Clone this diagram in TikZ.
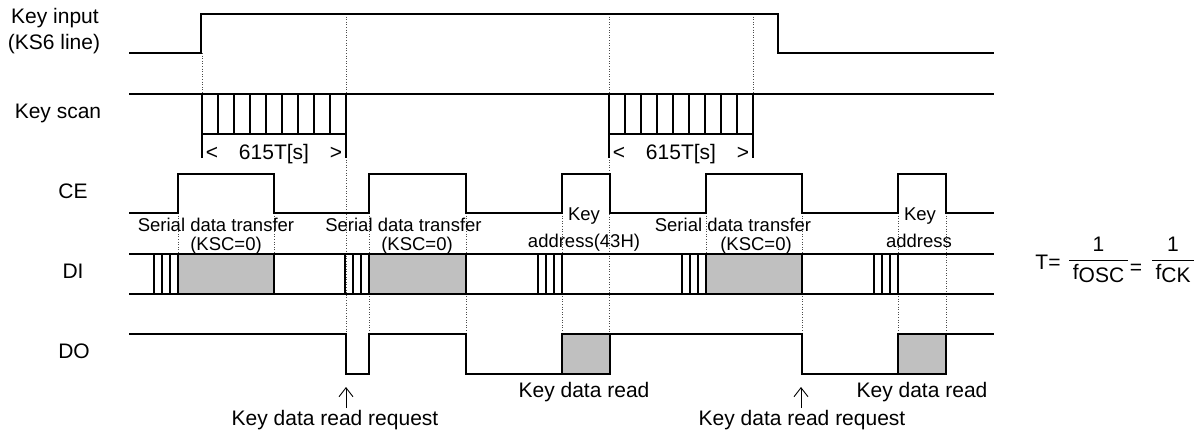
\documentclass[tikz,border=0pt]{standalone}
\usepackage{fontspec}
\usepackage{amsmath}
\setmainfont{Liberation Sans}
\usetikzlibrary{arrows.meta}
\definecolor{busygray}{RGB}{192,192,192}
\begin{document}
\begin{tikzpicture}[x=1pt, y=-1pt, line width=1.1pt, >={Straight Barb[length=9pt,width=14pt]},
	lbl/.style={font=\fontsize{21}{25}\selectfont, anchor=base, inner sep=1pt},
	note/.style={font=\fontsize{18.5}{22}\selectfont, anchor=base, inner sep=1pt},
	guide/.style={dotted, line width=0.6pt, black!70},
	busy/.style={fill=busygray}]
	\useasboundingbox (0,0) rectangle (1202,434);
	\def\xa{129} % left end of the lines
	\def\xb{994} % right end of the lines
	\def\ks{94} % key scan line
	\def\ceh{174} \def\cel{213} % CE high / low
	\def\dit{254} \def\dib{294} % DI band
	\def\doh{334} \def\dol{374} % DO high / low
	% dotted guides
	\draw[guide] (202,53)--(202,\ks) (753,14)--(753,\ks);
	\draw[guide] (346,14)--(346,\doh) (609,14)--(609,\doh);
	\foreach \g in {178,274,706} \draw[guide] (\g,\cel)--(\g,\dit);
	\foreach \g in {369,466,562,802,898,946} \draw[guide] (\g,\cel)--(\g,\doh);
	% signal names
	\node[lbl] (kin) at (55,23) {Key input};
	\node[lbl] (kinb) at (54,49) {(KS6 line)};
	\node[lbl] (ksn) at (58,118) {Key scan};
	\node[lbl] (cen) at (73,198) {CE};
	\node[lbl] (din) at (73,278) {DI};
	\node[lbl] (don) at (74,358) {DO};
	% key input
	\draw (\xa,53)--(201,53)--(201,14)--(778,14)--(778,53)--(\xb,53);
	% key scan
	\draw (\xa,\ks)--(\xb,\ks);
	\foreach \s in {202,609}{
		\foreach \i in {0,...,9} \draw (\s+16*\i,\ks)--(\s+16*\i,134);
		\draw (\s,158)--(\s,134)--(\s+144,134)--(\s+144,158);
		\node[lbl] (lt\s) at (\s+10,159) {<};
		\node[lbl] (sc\s) at (\s+72,159) {615T[s]};
		\node[lbl] (gt\s) at (\s+134,159) {>};
	}
	% CE
	\draw (\xa,\cel) \foreach \u/\v in {178/274,369/466,562/610,706/802,898/946} {--(\u,\cel)--(\u,\ceh)--(\v,\ceh)--(\v,\cel)} --(\xb,\cel);
	% DI
	\foreach \u/\v in {178/274,369/466,706/802} \draw[busy] (\u,\dit) rectangle (\v,\dib);
	\draw (\xa,\dit)--(\xb,\dit) (\xa,\dib)--(\xb,\dib);
	\foreach \e in {178,369,562,706,898} \foreach \k in {0,...,3} \draw (\e-8*\k,\dit)--(\e-8*\k,\dib);
	% DO
	\draw (\xa,\doh)--(346,\doh)--(346,\dol)--(369,\dol)--(369,\doh)--(466,\doh)--(466,\dol)--(562,\dol);
	\draw[busy] (562,\doh) rectangle (610,\dol);
	\draw (610,\doh)--(802,\doh)--(802,\dol)--(898,\dol);
	\draw[busy] (898,\doh) rectangle (946,\dol);
	\draw (946,\doh)--(\xb,\doh);
	% transfer notes
	\node[note] (sd1) at (216,231) {Serial data transfer};
	\node[note] (kc1) at (226,250) {(KSC=0)};
	\node[note] (sd2) at (403.5,231) {Serial data transfer};
	\node[note] (kc2) at (417,250) {(KSC=0)};
	\node[note] (sd3) at (733,231) {Serial data transfer};
	\node[note] (kc3) at (756,250) {(KSC=0)};
	\node[note] (ka1) at (584,220) {Key};
	\node[note] (ad1) at (584,247) {address(43H)};
	\node[note] (ka2) at (920,220) {Key};
	\node[note] (ad2) at (919,247) {address};
	% read labels
	\node[lbl] (kr1) at (584,397) {Key data read};
	\node[lbl] (kr2) at (922,397) {Key data read};
	\node[lbl] (rq1) at (335,425) {Key data read request};
	\node[lbl] (rq2) at (802,425) {Key data read request};
	\coordinate (rd1) at (346,387);
	\coordinate (rd2) at (801,387);
	\draw[->, line width=0.9pt] (rq1.north -| rd1) -- (rd1);
	\draw[->, line width=0.9pt] (rq2.north -| rd2) -- (rd2);
	% period
	\node[lbl] (tdef) at (1048,269) {T=};
	\node[lbl] (per1) at (1098.5,265.25) {$\dfrac{\text{1}}{\text{\,f\raisebox{-3pt}{OSC}\,}}$};
	\node[lbl] (eqk) at (1136,274) {=};
	\node[lbl] (per2) at (1173,265.25) {$\dfrac{\text{1}}{\text{\,f\raisebox{-3pt}{CK}\,}}$};
\end{tikzpicture}
\end{document}
